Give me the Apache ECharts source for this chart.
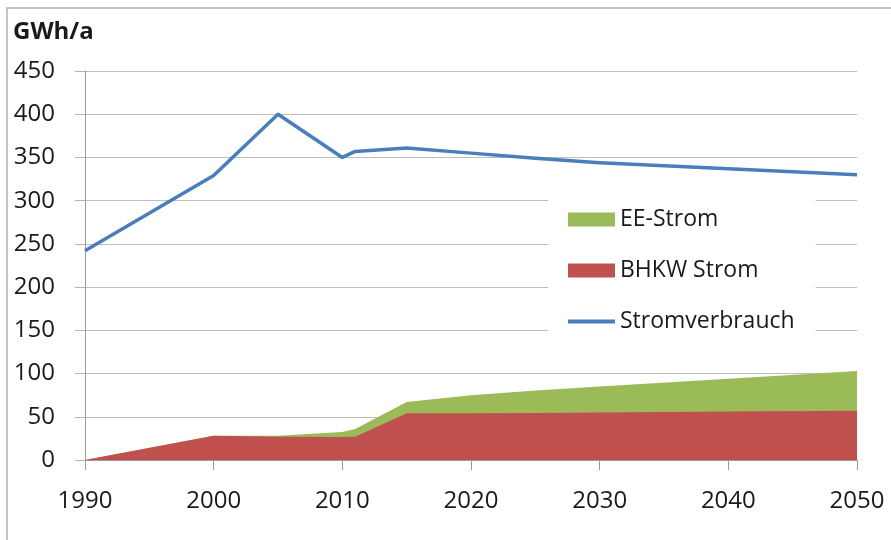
<!DOCTYPE html>
<html>
<head>
<meta charset="utf-8">
<script src="https://cdn.jsdelivr.net/npm/echarts@6/dist/echarts.min.js"></script>
<style>
  html, body { margin: 0; padding: 0; background: #fff; }
  #chart { width: 891px; height: 540px; }
</style>
</head>
<body>
<div id="chart"></div>
<script>
// Stützjahre der Zeitreihen
const years = [1990, 2000, 2005, 2010, 2011, 2015, 2020, 2025, 2030, 2040, 2050];
// Stromverbrauch in GWh/a
const stromverbrauch = [242, 329, 400, 350, 357, 361, 355, 349, 344, 337, 330];
// Stromerzeugung aus BHKW in GWh/a
const bhkwStrom = [0, 28, 27, 26.5, 27, 54, 54, 54.5, 55, 56, 57];
// Stromerzeugung aus erneuerbaren Energien in GWh/a
const eeStrom = [0, 0, 1, 6, 9, 13, 21, 26, 30, 38, 46];

const yTicks = { min: 0, max: 450, interval: 50 };
const xTicks = { min: 1990, max: 2050, interval: 10 };

const FONT = '"Open Sans", "Liberation Sans", sans-serif';

// gestapelte Flächen: EE-Strom liegt oberhalb des BHKW-Stroms
const bhkwData = years.map((y, i) => [y, bhkwStrom[i]]);
const eeTopData = years.map((y, i) => [y, bhkwStrom[i] + eeStrom[i]]);
const verbrauchData = years.map((y, i) => [y, stromverbrauch[i]]);

const chart = echarts.init(document.getElementById('chart'), null, { renderer: 'canvas' });

chart.setOption({
  animation: false,
  backgroundColor: '#ffffff',
  graphic: [{
    type: 'rect',
    shape: { x: 7, y: 8, width: 900, height: 600 },
    style: { fill: 'none', stroke: '#b0b0b0', lineWidth: 1.5 },
    silent: true,
    z: 0
  }],
  title: {
    text: 'GWh/a',
    left: 13,
    top: 20,
    padding: 0,
    textStyle: { fontFamily: FONT, fontWeight: 'bold', fontSize: 24, color: '#1a1a1a' }
  },
  grid: { left: 85, top: 71, width: 772, height: 389 },
  xAxis: {
    type: 'value',
    min: xTicks.min,
    max: xTicks.max,
    interval: xTicks.interval,
    axisLine: { show: true, lineStyle: { color: '#9a9a9a', width: 1 } },
    axisTick: { show: true, length: 10, inside: false, lineStyle: { color: '#9a9a9a' } },
    splitLine: { show: false },
    axisLabel: {
      margin: 29,
      fontFamily: FONT,
      fontSize: 24,
      color: '#1a1a1a',
      formatter: v => String(v)
    }
  },
  yAxis: {
    type: 'value',
    min: yTicks.min,
    max: yTicks.max,
    interval: yTicks.interval,
    axisLine: { show: true, lineStyle: { color: '#9a9a9a', width: 1 } },
    axisTick: { show: true, length: 10, inside: false, lineStyle: { color: '#b4b4b4' } },
    splitLine: { show: true, lineStyle: { color: '#bdbdbd', width: 1 } },
    axisLabel: {
      margin: 30,
      fontFamily: FONT,
      fontSize: 24,
      color: '#1a1a1a'
    }
  },
  legend: {
    orient: 'vertical',
    left: 548,
    top: 195,
    padding: [13, 21, 7, 20],
    backgroundColor: '#ffffff',
    itemWidth: 47,
    itemHeight: 14,
    itemGap: 28,
    symbolKeepAspect: true,
    textStyle: { fontFamily: FONT, fontSize: 23, color: '#1a1a1a', padding: [0, 0, 0, 0] },
    data: [
      { name: 'EE-Strom', icon: 'rect' },
      { name: 'BHKW Strom', icon: 'rect' },
      { name: 'Stromverbrauch', icon: 'path://M0,0 L47,0 L47,4 L0,4 Z' }
    ],
    z: 10
  },
  series: [
    {
      name: 'EE-Strom',
      type: 'line',
      data: eeTopData,
      symbol: 'none',
      color: '#9bbb59',
      lineStyle: { width: 0 },
      areaStyle: { color: '#9bbb59', opacity: 1 },
      z: 2
    },
    {
      name: 'BHKW Strom',
      type: 'line',
      data: bhkwData,
      symbol: 'none',
      color: '#c0504d',
      lineStyle: { width: 0 },
      areaStyle: { color: '#c0504d', opacity: 1 },
      z: 3
    },
    {
      name: 'Stromverbrauch',
      type: 'line',
      data: verbrauchData,
      symbol: 'none',
      color: '#4a7ebb',
      lineStyle: { width: 3.5, color: '#4a7ebb', join: 'round' },
      z: 4
    }
  ]
});
</script>
</body>
</html>
